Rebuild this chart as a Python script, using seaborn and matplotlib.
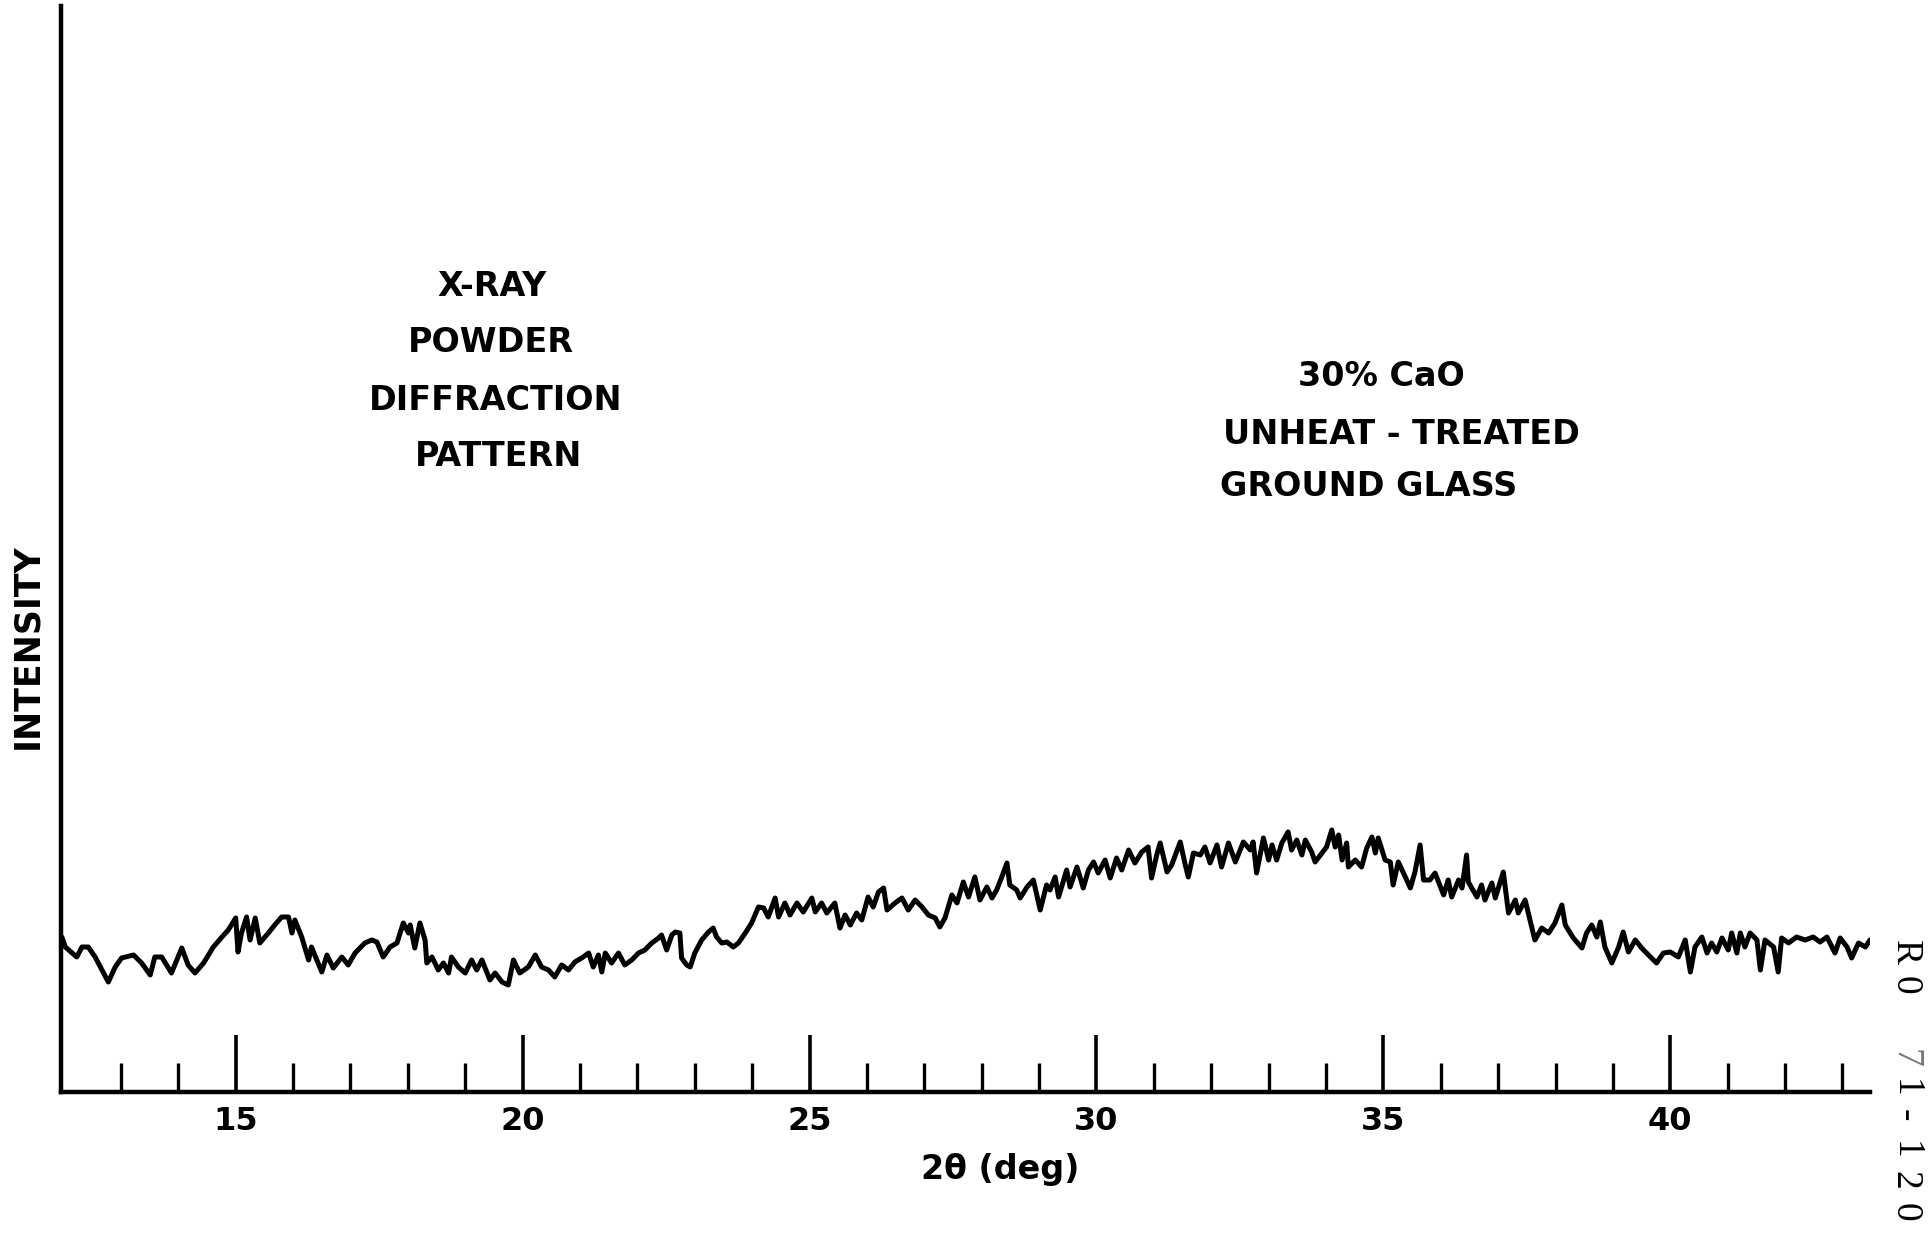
import matplotlib
matplotlib.use("Agg")
import matplotlib.pyplot as plt
import seaborn as sns
import pandas as pd

# ---- data ----
two_theta = [
    11.97, 12.03, 12.23, 12.32, 12.43, 12.55, 12.78, 12.90, 13.01, 13.22,
    13.36, 13.51, 13.59, 13.71, 13.88, 14.06, 14.17, 14.29, 14.44, 14.61,
    14.76, 14.87, 15.00, 15.04, 15.10, 15.19, 15.25, 15.34, 15.42, 15.54,
    15.68, 15.80, 15.92, 15.98, 16.03, 16.15, 16.27, 16.32, 16.50, 16.59,
    16.70, 16.85, 16.96, 17.08, 17.25, 17.37, 17.46, 17.57, 17.69, 17.81,
    17.92, 18.01, 18.04, 18.12, 18.21, 18.30, 18.33, 18.42, 18.53, 18.62,
    18.71, 18.76, 18.88, 19.00, 19.11, 19.20, 19.29, 19.43, 19.52, 19.64,
    19.75, 19.84, 19.95, 20.10, 20.22, 20.33, 20.45, 20.56, 20.68, 20.80,
    20.91, 21.03, 21.15, 21.23, 21.32, 21.38, 21.44, 21.55, 21.67, 21.78,
    21.90, 22.02, 22.13, 22.25, 22.37, 22.42, 22.51, 22.60, 22.66, 22.74,
    22.77, 22.86, 22.92, 23.00, 23.12, 23.24, 23.32, 23.38, 23.47, 23.56,
    23.67, 23.76, 23.88, 23.99, 24.11, 24.20, 24.28, 24.40, 24.46, 24.57,
    24.66, 24.78, 24.89, 25.04, 25.10, 25.21, 25.30, 25.44, 25.53, 25.62,
    25.71, 25.82, 25.91, 26.02, 26.11, 26.20, 26.29, 26.35, 26.49, 26.61,
    26.72, 26.84, 26.96, 27.07, 27.19, 27.27, 27.36, 27.48, 27.57, 27.68,
    27.77, 27.88, 27.97, 28.09, 28.18, 28.26, 28.35, 28.44, 28.49, 28.61,
    28.67, 28.79, 28.90, 29.02, 29.13, 29.19, 29.28, 29.34, 29.48, 29.54,
    29.66, 29.77, 29.86, 29.95, 30.03, 30.15, 30.24, 30.35, 30.44, 30.56,
    30.67, 30.79, 30.90, 30.96, 31.05, 31.11, 31.23, 31.31, 31.46, 31.54,
    31.60, 31.69, 31.81, 31.89, 31.98, 32.10, 32.18, 32.30, 32.42, 32.56,
    32.68, 32.73, 32.79, 32.91, 33.00, 33.06, 33.14, 33.23, 33.34, 33.40,
    33.49, 33.58, 33.64, 33.75, 33.81, 33.93, 34.01, 34.10, 34.16, 34.22,
    34.28, 34.36, 34.39, 34.51, 34.62, 34.71, 34.80, 34.86, 34.91, 35.03,
    35.12, 35.17, 35.26, 35.35, 35.47, 35.55, 35.64, 35.70, 35.81, 35.90,
    36.05, 36.13, 36.19, 36.31, 36.37, 36.45, 36.48, 36.54, 36.63, 36.71,
    36.77, 36.89, 36.95, 37.09, 37.18, 37.30, 37.35, 37.47, 37.64, 37.76,
    37.88, 37.99, 38.11, 38.17, 38.31, 38.46, 38.54, 38.63, 38.72, 38.78,
    38.86, 38.98, 39.10, 39.18, 39.27, 39.39, 39.50, 39.62, 39.76, 39.88,
    40.00, 40.14, 40.26, 40.35, 40.43, 40.55, 40.64, 40.72, 40.81, 40.90,
    41.01, 41.07, 41.16, 41.22, 41.30, 41.39, 41.51, 41.57, 41.65, 41.80,
    41.88, 41.94, 42.06, 42.20, 42.35, 42.49, 42.61, 42.73, 42.87, 42.96,
    43.08, 43.16, 43.28, 43.40, 43.48,
]
intensity = [
    153, 143, 133, 143, 143, 133, 108, 123, 132, 135,
    127, 115, 133, 133, 117, 142, 125, 117, 127, 143,
    153, 160, 172, 138, 157, 173, 150, 172, 147, 155,
    165, 173, 173, 157, 170, 153, 130, 143, 118, 135,
    122, 133, 125, 137, 147, 150, 148, 133, 143, 147,
    167, 157, 165, 142, 167, 150, 127, 133, 120, 127,
    117, 133, 123, 117, 130, 120, 130, 110, 117, 108,
    105, 130, 117, 123, 135, 123, 120, 113, 125, 120,
    128, 132, 137, 123, 135, 118, 137, 127, 137, 125,
    130, 137, 140, 147, 152, 155, 140, 155, 158, 157,
    132, 125, 123, 137, 150, 158, 162, 153, 147, 148,
    143, 147, 157, 167, 183, 182, 173, 192, 173, 187,
    175, 187, 178, 192, 178, 187, 177, 187, 162, 175,
    165, 177, 170, 193, 183, 198, 202, 180, 187, 192,
    180, 190, 183, 175, 172, 163, 172, 195, 187, 208,
    193, 213, 190, 203, 192, 200, 213, 227, 205, 200,
    192, 203, 210, 180, 205, 200, 213, 193, 220, 203,
    223, 202, 220, 228, 217, 230, 212, 232, 220, 240,
    227, 238, 243, 212, 235, 247, 218, 225, 248, 227,
    213, 237, 235, 243, 227, 245, 223, 247, 228, 248,
    240, 248, 217, 252, 230, 245, 230, 247, 258, 240,
    250, 235, 250, 238, 228, 237, 243, 260, 243, 255,
    230, 247, 223, 230, 223, 242, 253, 237, 252, 230,
    228, 205, 228, 217, 202, 218, 245, 210, 210, 217,
    195, 210, 193, 210, 202, 235, 208, 202, 193, 205,
    190, 207, 192, 218, 177, 190, 177, 190, 150, 162,
    157, 167, 185, 165, 152, 142, 157, 165, 153, 168,
    143, 127, 143, 158, 138, 150, 142, 135, 127, 137,
    138, 133, 150, 118, 143, 153, 137, 147, 138, 152,
    140, 157, 137, 157, 143, 157, 150, 120, 150, 143,
    118, 152, 147, 153, 150, 153, 148, 153, 137, 152,
    143, 132, 147, 143, 150,
]
major_ticks = [15, 20, 25, 30, 35, 40]
major_labels = ["15", "20", "25", "30", "35", "40"]
minor_ticks = [13, 14, 16, 17, 18, 19, 21, 22, 23, 24, 26, 27, 28, 29,
               31, 32, 33, 34, 36, 37, 38, 39, 41, 42, 43]
title_lines = ["X-RAY", "POWDER", "DIFFRACTION", "PATTERN"]
sample_lines = ["30% CaO", "UNHEAT - TREATED", "GROUND GLASS"]
x_label = "2θ (deg)"
y_label = "INTENSITY"
stamp_chars = ["R", "0", "7", "1", "-", "1", "2", "0"]

df = pd.DataFrame({"two_theta": two_theta, "intensity": intensity})

sns.set_style("white")
plt.rcParams["font.family"] = ["DejaVu Sans"]
plt.rcParams["text.color"] = "black"
plt.rcParams["xtick.color"] = "black"

W, H = 1929, 1241
fig = plt.figure(figsize=(W / 100, H / 100), dpi=100)
ax = fig.add_axes([60.7 / W, 1 - 1092 / H, (1870 - 60.7) / W, (1092 - 6) / H])

sns.lineplot(data=df, x="two_theta", y="intensity", ax=ax, color="black",
             linewidth=3.6, estimator=None, sort=False)

ax.set_xlim(11.95, 43.48)
ax.set_ylim(-2, 1084)

for s in ["top", "right"]:
    ax.spines[s].set_visible(False)
for s in ["left", "bottom"]:
    ax.spines[s].set_visible(True)
    ax.spines[s].set_linewidth(3.2)
    ax.spines[s].set_color("black")

ax.set_yticks([])
ax.set_xticks(major_ticks)
ax.set_xticklabels(major_labels, fontsize=23, fontweight="bold", color="black")
ax.set_xticks(minor_ticks, minor=True)
ax.tick_params(axis="x", which="major", direction="in", length=41, width=2.6,
               color="black", labelcolor="black", pad=10, bottom=True)
ax.tick_params(axis="x", which="minor", direction="in", length=21, width=2.4,
               color="black", bottom=True)
ax.set_xlabel("")
ax.set_ylabel("")
ax.grid(False)

def fx(px):
    return px / W

def fy(py):
    return 1 - py / H

txt = dict(fontsize=24, fontweight="bold", ha="center", va="center", color="black")
for line, (cx, cy) in zip(title_lines, [(491.7, 286), (490.8, 343), (495.8, 400), (498.3, 456)]):
    fig.text(fx(cx), fy(cy), line, **txt)
for line, (cx, cy) in zip(sample_lines, [(1381.7, 376), (1401.7, 434), (1369, 486)]):
    fig.text(fx(cx), fy(cy), line, **txt)

fig.text(fx(1000), fy(1170), x_label, **txt)
fig.text(fx(27), fy(646), y_label, rotation=90, **dict(txt, fontsize=25))

stamp_y = [953, 985, 1058, 1088, 1115, 1150, 1180, 1212]
for ch, yy in zip(stamp_chars, stamp_y):
    fig.text(fx(1905), fy(yy), ch, rotation=270, fontsize=27,
             family="Liberation Serif", ha="center", va="center",
             color="black" if ch != "7" else "#777777")

fig.savefig("out.png", dpi=100)
